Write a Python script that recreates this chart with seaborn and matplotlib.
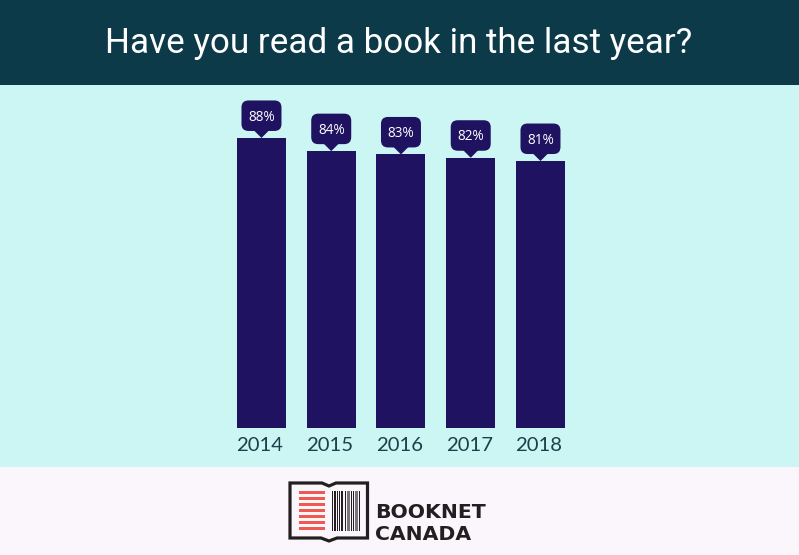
import matplotlib
matplotlib.use('Agg')
import matplotlib.pyplot as plt
import pandas as pd
import seaborn as sns
from matplotlib.patches import FancyBboxPatch, Polygon, Rectangle
from matplotlib.transforms import ScaledTranslation

years = ['2014', '2015', '2016', '2017', '2018']
read_pct = [88, 84, 83, 82, 81]
title_str = 'Have you read a book in the last year?'
logo_words = ['BOOKNET', 'CANADA']

# logo pieces, in pixels
red_line_tops = [491, 497, 503, 509, 515, 521, 527]
barcode_dark = [(332, 1), (334, 2), (337, 1), (339, 1), (341, 2), (344.5, 1), (351, 1), (353, 1), (358.5, 1)]
barcode_grey = [(346.5, 3), (354.5, 3.5)]

BG = '#ccf6f4'
HEADER = '#0d3a48'
FOOTER = '#fbf6fb'
BAR = '#1f1261'
TEXT = '#1c3f4a'
INK = '#231f20'
GREY = '#77767a'
RED = '#f0594f'

sns.set_theme(style='white')
plt.rcParams['font.family'] = ['Open Sans', 'DejaVu Sans']

W, H = 799, 555
fig = plt.figure(figsize=(W / 100, H / 100), dpi=100)

# page furniture, drawn on a full-figure axes in pixel coordinates
bg = fig.add_axes([0, 0, 1, 1], zorder=0)
bg.set_xlim(0, W)
bg.set_ylim(H, 0)
bg.axis('off')
bg.add_patch(Rectangle((0, 0), W, 85, color=HEADER, lw=0))
bg.add_patch(Rectangle((0, 85), W, 382, color=BG, lw=0))
bg.add_patch(Rectangle((0, 467), W, 88, color=FOOTER, lw=0))
bg.text(399, 44, title_str, color='white', fontsize=25.2, family='Roboto',
        ha='center', va='center')

# book outline
bg.add_patch(Polygon([(290, 483), (322, 483), (329, 486), (336, 483), (367.5, 483), (367.5, 538),
                      (337, 538), (329, 541), (321, 538), (290, 538)],
                     closed=True, fill=False, edgecolor=INK, lw=2.3, joinstyle='miter'))
for top in red_line_tops:
    bg.add_patch(Rectangle((298.5, top), 26, 3.2, color=RED, lw=0))
for left, width in barcode_dark:
    bg.add_patch(Rectangle((left, 491), width, 39.5, color=INK, lw=0))
for left, width in barcode_grey:
    bg.add_patch(Rectangle((left, 491), width, 39.5, color=GREY, lw=0))
bg.text(375.5, 517.5, logo_words[0], color=INK, fontsize=14.7, family='DejaVu Sans', weight='bold', va='baseline')
bg.text(375.5, 539.5, logo_words[1], color=INK, fontsize=14.7, family='DejaVu Sans', weight='bold', va='baseline')

# chart axes: x runs 226.6-575.4 px, y runs 85-428 px
ax_w = 348.75
ax = fig.add_axes([226.6 / W, (H - 428) / H, ax_w / W, 343 / H], zorder=1)
ax.patch.set_alpha(0)
df = pd.DataFrame({'year': years, 'pct': read_pct})
sns.barplot(data=df, x='year', y='pct', color=BAR, saturation=1, width=0.7025, linewidth=0, ax=ax)
ax.set_xlim(-0.5, 4.5)
ax.set_ylim(0, 104.07)
ax.set_xlabel('')
ax.set_ylabel('')
ax.set_yticks([])
ax.tick_params(axis='x', length=0, pad=6.5, labelsize=14.6, labelcolor=TEXT)
# year labels sit a little left of the bar centres in the original
nudge = ScaledTranslation(-1.5 / 100, 0, fig.dpi_scale_trans)
for lab in ax.get_xticklabels():
    lab.set_family('Lato')
    lab.set_transform(lab.get_transform() + nudge)
sns.despine(ax=ax, left=True, bottom=True)

# value bubbles sit a fixed pixel distance above each bar
px_x = 5 / ax_w
px_y = 104.07 / 343
for i, v in enumerate(read_pct):
    box_bottom = v + 7 * px_y
    box_h = 30.5 * px_y
    box_w = 40 * px_x
    ax.add_patch(FancyBboxPatch((i - box_w / 2, box_bottom), box_w, box_h,
                                boxstyle=f'round,pad=0,rounding_size={7 * px_x}',
                                mutation_aspect=px_y / px_x, fc=BAR, ec='none'))
    ax.add_patch(Polygon([(i - 8 * px_x, box_bottom + px_y), (i + 8 * px_x, box_bottom + px_y), (i, v)],
                         closed=True, fc=BAR, ec='none'))
    ax.text(i, box_bottom + box_h / 2 - 1.5 * px_y, f'{v}%', color='white', fontsize=9.8, ha='center', va='center')

fig.savefig('out.png', dpi=100)
